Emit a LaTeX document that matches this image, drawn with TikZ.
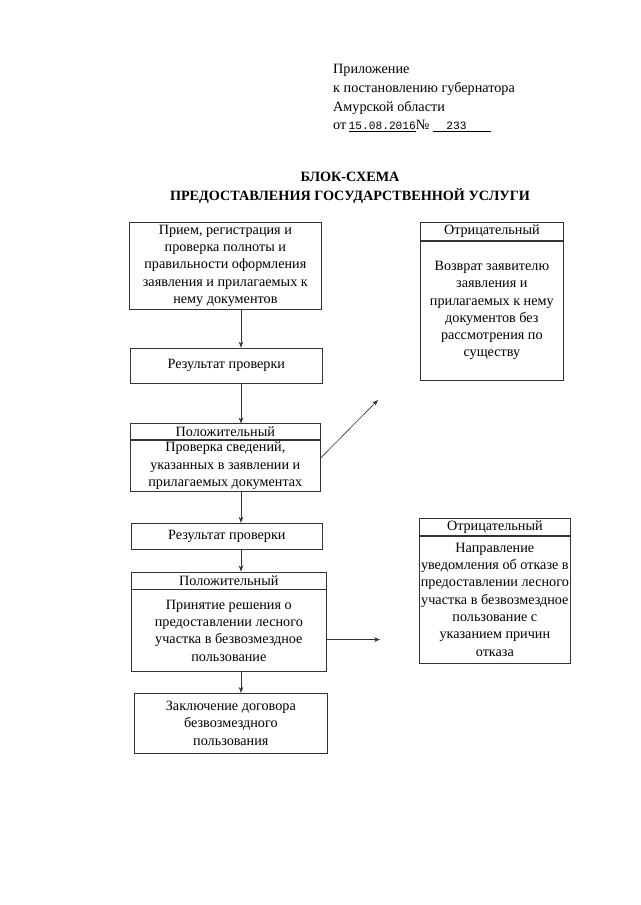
\documentclass[tikz,border=0pt]{standalone}
\usepackage{fontspec}
\setmainfont{Liberation Serif}
\setmonofont{Liberation Mono}
\usetikzlibrary{arrows.meta, positioning}

\begin{document}
\begin{tikzpicture}[
    x=1pt, y=-1pt, node distance=40pt, >=Stealth,
    box/.style={rectangle, draw=black!80, line width=0.7pt, align=center, inner xsep=1pt, inner ysep=1pt, font=\fontsize{14.2}{17.3}\selectfont},
    headbox/.style={box, inner ysep=0pt},
    line/.style={draw=black!80, line width=0.6pt, -{Stealth[length=6pt, width=4.5pt]}}
  ]
  \useasboundingbox[fill=white] (0,0) rectangle (640,905);

  % appendix heading and title
  \node[anchor=north west, align=left, inner sep=0pt, font=\fontsize{14.2}{18.8}\selectfont] (appx) at (333,64) {Приложение\\к постановлению губернатора\\Амурской области\\от\,\underline{\texttt{\fontsize{11.2}{12}\selectfont 15.08.2016}}№ \underline{\texttt{\fontsize{11.2}{12}\selectfont\ \ 233}\hspace{24pt}}};
  \node[align=center, font=\bfseries\fontsize{14.2}{19}\selectfont] (title) at (350,188) {БЛОК-СХЕМА\\ПРЕДОСТАВЛЕНИЯ ГОСУДАРСТВЕННОЙ УСЛУГИ};

  % left column
  \node[box, anchor=north west, minimum width=192pt, minimum height=87pt] (recv) at (129,222) {Прием, регистрация и\\проверка полноты и\\правильности оформления\\заявления и прилагаемых к\\нему документов};
  \node[box, below=38pt of recv, xshift=1pt, minimum width=192pt, minimum height=35pt] (res1) {Результат проверки};
  \node[headbox, below=40pt of res1, xshift=-1pt, minimum width=190pt, minimum height=16pt] (pos1h) {Положительный};
  \node[box, below=0pt of pos1h, minimum width=190pt, minimum height=51pt] (check) {Проверка сведений,\\указанных в заявлении и\\прилагаемых документах};
  \node[box, below=31pt of check, xshift=1.5pt, minimum width=191pt, minimum height=26pt] (res2) {Результат проверки};
  \node[headbox, below=22pt of res2, xshift=2pt, minimum width=195pt, minimum height=17pt] (pos2h) {Положительный};
  \node[box, below=0pt of pos2h, minimum width=195pt, minimum height=82pt] (decide) {Принятие решения о\\предоставлении лесного\\участка в безвозмездное\\пользование};
  \node[box, below=21pt of decide, xshift=2pt, minimum width=193pt, minimum height=60pt] (contract) {Заключение договора\\безвозмездного\\пользования};

  % right column
  \node[headbox, anchor=north west, minimum width=143pt, minimum height=18pt] (neg1h) at (420,222) {Отрицательный};
  \node[box, below=0pt of neg1h, minimum width=143pt, minimum height=139pt] (ret) {Возврат заявителю\\заявления и\\прилагаемых к нему\\документов без\\рассмотрения по\\существу};
  \node[headbox, anchor=north west, minimum width=151pt, minimum height=17pt] (neg2h) at (419,518) {Отрицательный};
  \node[box, below=0pt of neg2h, minimum width=151pt, minimum height=127pt] (refuse) {Направление\\уведомления об отказе в\\предоставлении лесного\\участка в безвозмездное\\пользование с\\указанием причин\\отказа};

  % connectors
  \coordinate (ax) at (241,0);
  \coordinate (d1) at (378,400);
  \coordinate (d2) at (380,0);
  \draw[line] (recv.south -| ax) -- (res1.north -| ax);
  \draw[line] (res1.south -| ax) -- (pos1h.north -| ax);
  \draw[line] (check.south -| ax) -- (res2.north -| ax);
  \draw[line] (res2.south -| ax) -- (pos2h.north -| ax);
  \draw[line] (decide.south -| ax) -- (contract.north -| ax);
  \draw[line] ([yshift=8pt]check.east) -- (d1);
  \draw[line] ([yshift=-9pt]decide.east) -- ([yshift=-9pt]decide.east -| d2);
\end{tikzpicture}
\end{document}
